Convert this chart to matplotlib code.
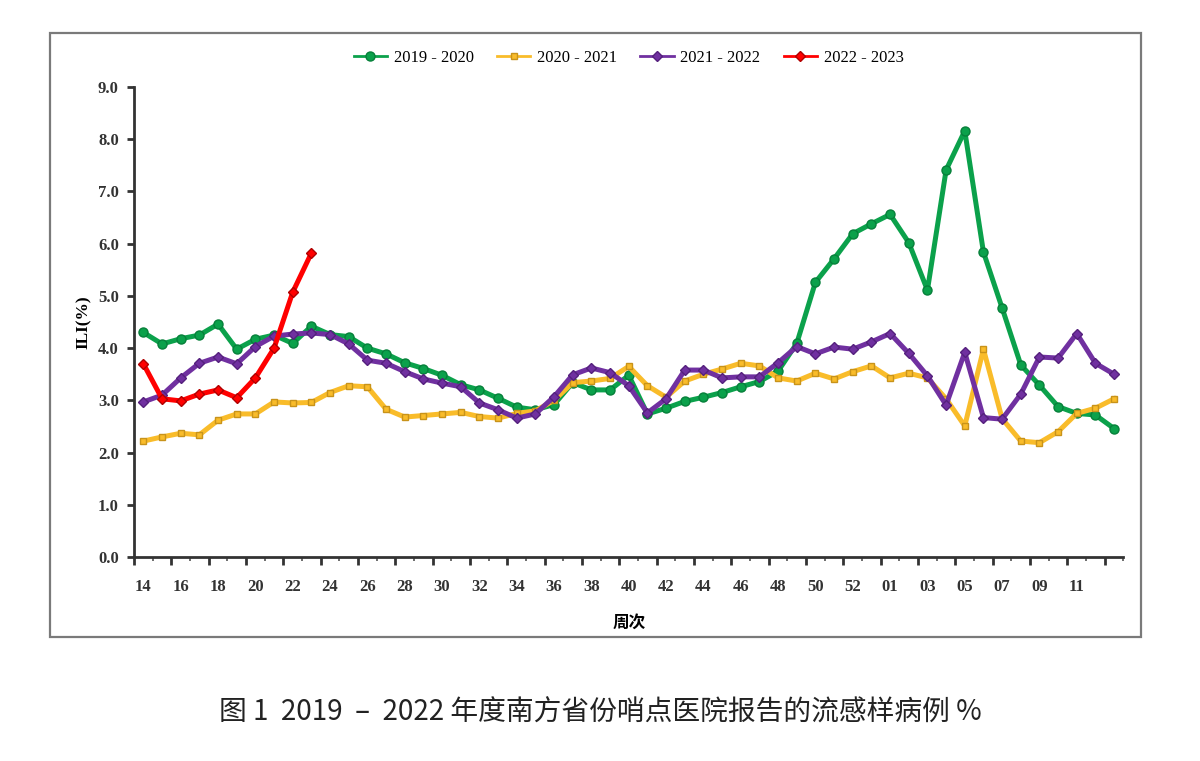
import numpy as np
import matplotlib
matplotlib.use("Agg")
import matplotlib.pyplot as plt
from matplotlib.patches import Rectangle

# 周次：14-53，再到次年 01-13
weeks = [str(w) for w in range(14, 54)] + ["%02d" % w for w in range(1, 14)]

ili_2019 = [4.30, 4.08, 4.18, 4.25, 4.46, 3.98, 4.17, 4.25, 4.09, 4.42,
            4.26, 4.22, 4.00, 3.89, 3.72, 3.61, 3.48, 3.30, 3.20, 3.04,
            2.87, 2.82, 2.92, 3.34, 3.20, 3.20, 3.48, 2.74, 2.85, 2.98,
            3.06, 3.15, 3.26, 3.36, 3.56, 4.09, 5.26, 5.71, 6.19, 6.38,
            6.56, 6.02, 5.11, 7.41, 8.16, 5.84, 4.77, 3.68, 3.29, 2.88,
            2.75, 2.72, 2.46]
ili_2020 = [2.22, 2.30, 2.37, 2.34, 2.62, 2.74, 2.74, 2.97, 2.95, 2.96,
            3.15, 3.28, 3.26, 2.83, 2.68, 2.71, 2.74, 2.77, 2.69, 2.66,
            2.75, 2.80, 3.00, 3.34, 3.37, 3.42, 3.65, 3.28, 3.06, 3.37,
            3.50, 3.60, 3.71, 3.66, 3.43, 3.37, 3.52, 3.41, 3.55, 3.66,
            3.43, 3.52, 3.43, 3.03, 2.51, 3.98, 2.65, 2.22, 2.19, 2.40,
            2.75, 2.85, 3.03]
ili_2021 = [2.97, 3.10, 3.43, 3.71, 3.83, 3.70, 4.03, 4.23, 4.27, 4.29,
            4.26, 4.08, 3.77, 3.71, 3.55, 3.41, 3.33, 3.26, 2.95, 2.82,
            2.66, 2.74, 3.07, 3.49, 3.62, 3.53, 3.28, 2.76, 3.03, 3.58,
            3.58, 3.43, 3.45, 3.45, 3.72, 4.03, 3.89, 4.02, 3.98, 4.12,
            4.28, 3.90, 3.47, 2.91, 3.92, 2.67, 2.64, 3.12, 3.83, 3.81,
            4.28, 3.71, 3.50]
ili_2022 = [3.70, 3.03, 2.99, 3.12, 3.20, 3.05, 3.43, 4.00, 5.07, 5.82]

series = [
    ("2019 - 2020", ili_2019, "#0BA14B", "#06803a", "o"),
    ("2020 - 2021", ili_2020, "#F9BC2A", "#c8931a", "s"),
    ("2021 - 2022", ili_2021, "#7030A0", "#55207d", "D"),
    ("2022 - 2023", ili_2022, "#FF0000", "#b00000", "D"),
]

plt.rcParams["font.family"] = ["Liberation Serif", "DejaVu Serif"]

fig = plt.figure(figsize=(12, 7.61), dpi=100)

# 外框
fig.patches.append(Rectangle((0.042, 0.163), 0.909, 0.794, transform=fig.transFigure,
                             fill=False, edgecolor="#7a7a7a", linewidth=1.6))

ax = fig.add_axes([0.1117, 0.268, 0.8245, 0.6177])

for name, vals, col, edge, mk in series:
    x = np.arange(len(vals))
    ax.plot(x, vals, color=col, linewidth=3.6, marker=mk,
            markersize=6.5 if mk == "o" else 5, markerfacecolor=col,
            markeredgecolor=edge, markeredgewidth=1.0, label=name,
            solid_joinstyle="round", zorder=3)

ax.set_xlim(-0.5, len(weeks) - 0.5)
ax.set_ylim(0, 9)
ax.set_yticks(np.arange(0, 9.5, 1.0))
ax.set_yticklabels(["%.1f" % v for v in np.arange(0, 9.5, 1.0)],
                   fontsize=12, fontweight="bold", color="#333333")

# 刻度在类别之间，标签每隔一个
ax.set_xticks(np.arange(-0.5, len(weeks), 2))
ax.set_xticklabels([])
ax.set_xticks(np.arange(0.5, len(weeks), 2), minor=True)
for i in range(0, len(weeks) - 1, 2):
    ax.text(i, -0.42, weeks[i], ha="center", va="top", fontsize=12,
            fontweight="bold", color="#333333")

ax.tick_params(axis="y", direction="out", length=5, width=2, color="#333333", pad=6)
ax.tick_params(axis="x", which="major", direction="out", length=6, width=2, color="#333333")
ax.tick_params(axis="x", which="minor", direction="out", length=3, width=1.2, color="#555555")

for s in ["top", "right"]:
    ax.spines[s].set_visible(False)
for s in ["left", "bottom"]:
    ax.spines[s].set_linewidth(2)
    ax.spines[s].set_color("#333333")

ax.set_ylabel("ILI(%)", fontsize=12.5, fontweight="bold", labelpad=4)
fig.text(0.524, 0.182, "周次", ha="center", va="center", fontsize=12,
         fontweight="bold", family=["Noto Sans CJK SC"])

leg = ax.legend(loc="upper center", bbox_to_anchor=(0.5, 1.11), ncol=4, frameon=False,
                fontsize=12, handlelength=2.0, columnspacing=1.4, handletextpad=0.4)
for ln in leg.get_lines():
    ln.set_linewidth(2)

fig.text(0.5, 0.063, "图 1  2019  –  2022 年度南方省份哨点医院报告的流感样病例 %",
         ha="center", va="center", fontsize=20, color="#222222",
         family=["Noto Sans CJK SC", "DejaVu Sans"])

fig.savefig("out.png", dpi=100, facecolor="white")
